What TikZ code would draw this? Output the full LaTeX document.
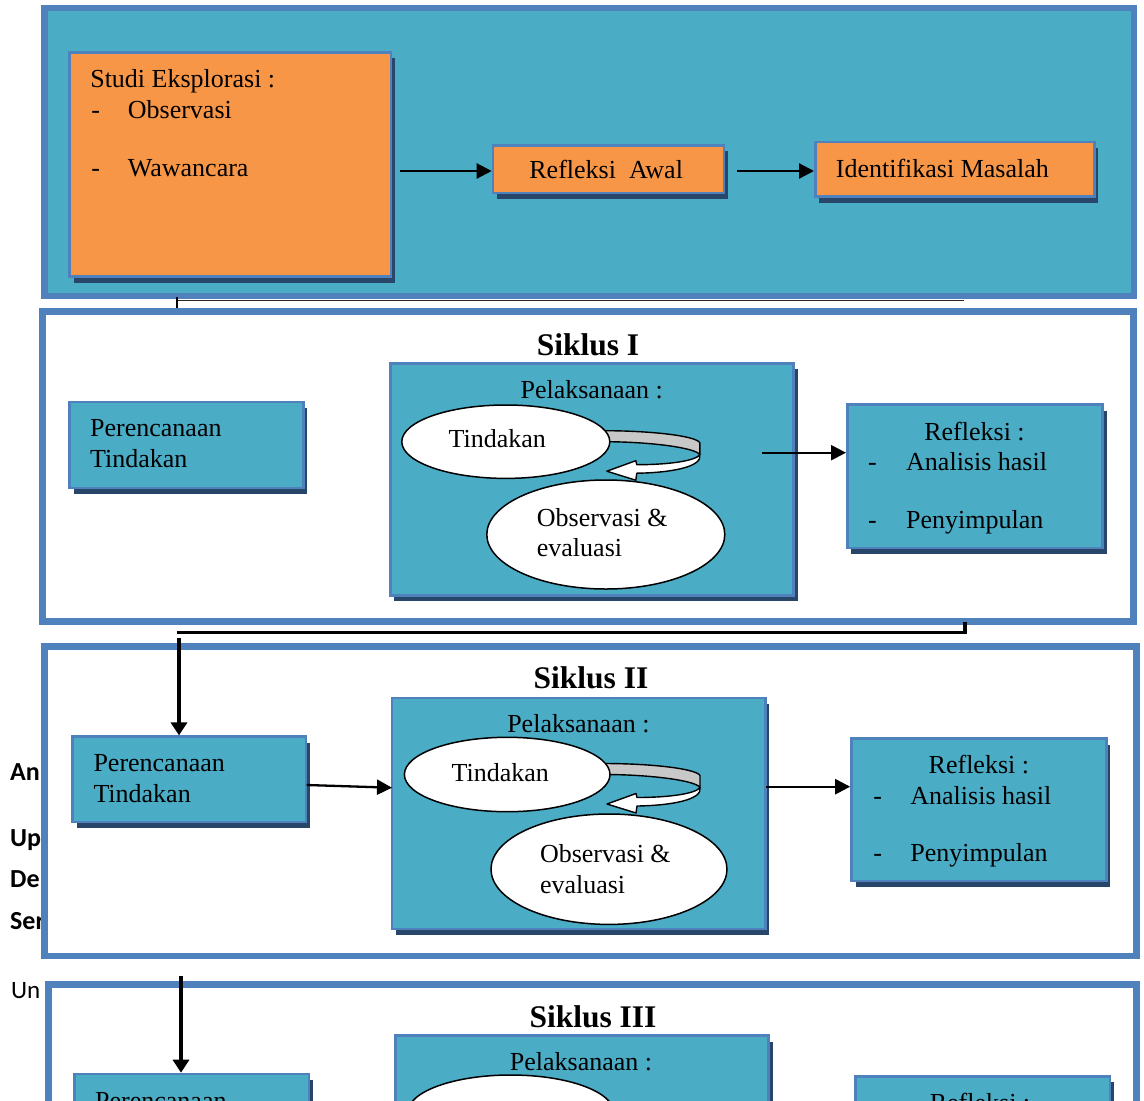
\documentclass[tikz,border=0pt]{standalone}
\usepackage{fontspec}
\setmainfont{Liberation Serif}
\newfontfamily\calib{Carlito}
\usetikzlibrary{arrows.meta,shadows,shapes.geometric}
\definecolor{aquac}{HTML}{4BACC6}
\definecolor{bluec}{HTML}{4F81BD}
\definecolor{orangec}{HTML}{F79646}
\definecolor{shadowc}{HTML}{28456A}
\definecolor{bandgray}{HTML}{C8C8C8}
\tikzset{
  sect/.style={rectangle, draw=bluec, line width=6.5pt, inner sep=0pt},
  ibox/.style={rectangle, draw=bluec, line width=2.6pt, inner sep=0pt,
    drop shadow={shadow xshift=4pt, shadow yshift=-6pt, fill=shadowc, opacity=1}},
  ell/.style={ellipse, draw=black, line width=1.5pt, fill=white, inner sep=0pt},
  txt/.style={inner sep=0pt, font=\fontsize{26}{30}\selectfont},
  ttl/.style={inner sep=0pt, font=\fontsize{31.5}{36}\selectfont\bfseries},
  frag/.style={inner sep=0pt, font=\calib\fontsize{26}{30}\selectfont\bfseries},
  fragr/.style={inner sep=0pt, font=\calib\fontsize{25}{30}\selectfont},
  arr/.style={line width=2.3pt, -{Triangle[length=15pt,width=15pt]}},
  varr/.style={line width=3.4pt, -{Triangle[length=13pt,width=16pt]}},
  curvarrow/.pic={
    \draw[line width=1.4pt, fill=bandgray, line join=round]
      (-6,-11) .. controls (40,-11) and (86,-6) .. (90,1) -- (90,13)
      .. controls (86,6) and (40,0) .. (-6,0) -- cycle;
    \draw[line width=1.4pt, fill=white, line join=round]
      (90,13) .. controls (86,19) and (60,23) .. (27,23) -- (26,19) -- (-3,29.5)
      -- (26,38.5) -- (27,31.5) .. controls (62,31) and (93,25) .. (90,13) -- cycle;
  }
}
\begin{document}
\begin{tikzpicture}[x=1pt,y=-1pt]
\clip (0,0) rectangle (1144,1101);
\fill[white] (0,0) rectangle (1144,1101);

% fragments of the page text behind the diagram
\node[frag, anchor=base west] (fAn) at (10,780) {An};
\node[frag, anchor=base west] (fUp) at (10,846) {Up};
\node[frag, anchor=base west] (fDe) at (10,887) {De};
\node[frag, anchor=base west] (fSe) at (10,929) {Ser};
\node[fragr, anchor=base west] (fUn) at (11,998) {Un};

% ---------------- top section ----------------
\node[sect, fill=aquac, minimum width=1089.5pt, minimum height=288pt] (topbox) at (589.25,152) {};
\node[ibox, fill=orangec, minimum width=321.4pt, minimum height=224.2pt] (studi) at (230.3,164.4) {};
\node[txt, anchor=base west] (t1) at (90.1,87.3) {Studi Eksplorasi :};
\node[txt, anchor=base west] (t2) at (91.2,118.3) {-};
\node[txt, anchor=base west] (t3) at (127.7,118.3) {Observasi};
\node[txt, anchor=base west] (t4) at (91.2,176) {-};
\node[txt, anchor=base west] (t5) at (127.7,176) {Wawancara};
\node[ibox, fill=orangec, minimum width=231pt, minimum height=47.7pt] (refawal) at (608.5,169.15) {};
\node[txt, anchor=base west] (t6) at (529.2,178.3) {Refleksi\ \ Awal};
\node[ibox, fill=orangec, minimum width=279pt, minimum height=54.5pt] (idmas) at (954.8,169.25) {};
\node[txt, anchor=base west] (t7) at (835.7,177.7) {Identifikasi Masalah};
\coordinate (a1s) at (400.4,171);
\coordinate (a2s) at (737.2,171);
\draw[arr] (a1s) -- (a1s -| refawal.west);
\draw[arr] (a2s) -- (a2s -| idmas.west);

% connector top -> Siklus I (mostly hidden)
\coordinate (c0a) at (177,300.7);
\coordinate (c0b) at (963.5,300.7);
\coordinate (c0t) at (177,297);
\coordinate (c0c) at (177,312);
\draw[line width=1pt, black!85] (c0a) -- (c0b);
\draw[line width=2.2pt] (c0t) -- (c0c);

% ---------------- Siklus I ----------------
\node[sect, fill=white, minimum width=1091.4pt, minimum height=309.8pt] (s1) at (588,466.6) {};
\node[ttl, anchor=base] (s1t) at (588,355) {Siklus I};
\node[ibox, fill=aquac, minimum width=233.8pt, minimum height=86pt] (per1) at (186.4,445) {};
\node[txt, anchor=base west] (p1a) at (90,436.7) {Perencanaan};
\node[txt, anchor=base west] (p1b) at (90,467.3) {Tindakan};
\node[ibox, fill=aquac, minimum width=403.4pt, minimum height=232pt] (pel1) at (592,479.3) {};
\node[txt, anchor=base] (l1) at (591.7,398.3) {Pelaksanaan :};
\coordinate (ca1) at (609.8,441.7);
\pic at (ca1) {curvarrow};
\node[ell, minimum width=208pt, minimum height=73.4pt] (tin1) at (505.8,441.7) {};
\node[txt, anchor=base] (tn1) at (497.2,447.3) {Tindakan};
\node[ell, minimum width=238pt, minimum height=109pt] (obs1) at (605.8,534.5) {};
\node[txt, anchor=base west] (o1a) at (536.7,526.7) {Observasi \&};
\node[txt, anchor=base west] (o1b) at (536.7,556.7) {evaluasi};
\node[ibox, fill=aquac, minimum width=255.4pt, minimum height=143.5pt] (ref1) at (975,476.25) {};
\node[txt, anchor=base] (r1a) at (974.5,440) {Refleksi :};
\node[txt, anchor=base west] (r1b) at (868,470.7) {-};
\node[txt, anchor=base west] (r1c) at (906,470.7) {Analisis hasil};
\node[txt, anchor=base west] (r1d) at (868,528.3) {-};
\node[txt, anchor=base west] (r1e) at (906,528.3) {Penyimpulan};
\coordinate (a3s) at (761.7,452.7);
\draw[arr] (a3s) -- (a3s -| ref1.west);

% connector Siklus I -> Siklus II (horizontal part)
\coordinate (c1a) at (965,621.5);
\coordinate (c1b) at (965,632.5);
\coordinate (c1c) at (177,632.5);
\draw[line width=3.5pt] (c1a) -- (c1b) -- (c1c);

% ---------------- Siklus II ----------------
\node[sect, fill=white, minimum width=1092pt, minimum height=309.3pt] (s2) at (590.5,801.35) {};
\node[ttl, anchor=base] (s2t) at (591,688.3) {Siklus II};
\node[ibox, fill=aquac, minimum width=233.5pt, minimum height=85.3pt] (per2) at (189.25,779.35) {};
\node[txt, anchor=base west] (p2a) at (93.3,771.7) {Perencanaan};
\node[txt, anchor=base west] (p2b) at (93.3,802.3) {Tindakan};
\coordinate (c1d) at (179,638);
\draw[varr] (c1d) -- (c1d |- per2.north);
\node[ibox, fill=aquac, minimum width=373.3pt, minimum height=231pt] (pel2) at (578.65,813.5) {};
\node[txt, anchor=base] (l2) at (578.4,732.7) {Pelaksanaan :};
\coordinate (ca2) at (610,774.5);
\pic at (ca2) {curvarrow};
\node[ell, minimum width=205.6pt, minimum height=74.4pt] (tin2) at (507.2,774.5) {};
\node[txt, anchor=base] (tn2) at (500.2,781.7) {Tindakan};
\node[ell, minimum width=236pt, minimum height=110.4pt] (obs2) at (609,869.2) {};
\node[txt, anchor=base west] (o2a) at (539.8,862.7) {Observasi \&};
\node[txt, anchor=base west] (o2b) at (539.8,893.3) {evaluasi};
\node[ibox, fill=aquac, minimum width=254.9pt, minimum height=142.5pt] (ref2) at (978.95,809.75) {};
\node[txt, anchor=base] (r2a) at (978.9,773.3) {Refleksi :};
\node[txt, anchor=base west] (r2b) at (873.2,804.3) {-};
\node[txt, anchor=base west] (r2c) at (910.2,804.3) {Analisis hasil};
\node[txt, anchor=base west] (r2d) at (873.2,861.7) {-};
\node[txt, anchor=base west] (r2e) at (910.2,861.7) {Penyimpulan};
\coordinate (a4s) at (306.7,785);
\coordinate (a4e) at (392,787.7);
\draw[arr] (a4s) -- (a4e);
\coordinate (a5s) at (766,786.7);
\draw[arr] (a5s) -- (a5s -| ref2.west);

% ---------------- Siklus III (cut by the page edge) ----------------
\node[sect, fill=white, minimum width=1087.8pt, minimum height=309.3pt] (s3) at (592.6,1139.35) {};
\node[ttl, anchor=base] (s3t) at (593,1027.3) {Siklus III};
\node[ibox, fill=aquac, minimum width=234.5pt, minimum height=85.3pt] (per3) at (191.75,1116.65) {};
\node[txt, anchor=base west] (p3a) at (95,1109) {Perencanaan};
\node[ibox, fill=aquac, minimum width=373pt, minimum height=231pt] (pel3) at (582,1151.2) {};
\node[txt, anchor=base] (l3) at (581,1070) {Pelaksanaan :};
\node[ell, minimum width=205.6pt, minimum height=74.4pt] (tin3) at (510.7,1112.2) {};
\node[ibox, fill=aquac, minimum width=254.5pt, minimum height=142.5pt] (ref3) at (982.75,1147.55) {};
\node[txt, anchor=base] (r3a) at (980,1111.5) {Refleksi :};
\coordinate (c2a) at (181,976);
\draw[varr] (c2a) -- (c2a |- per3.north);
\end{tikzpicture}
\end{document}
